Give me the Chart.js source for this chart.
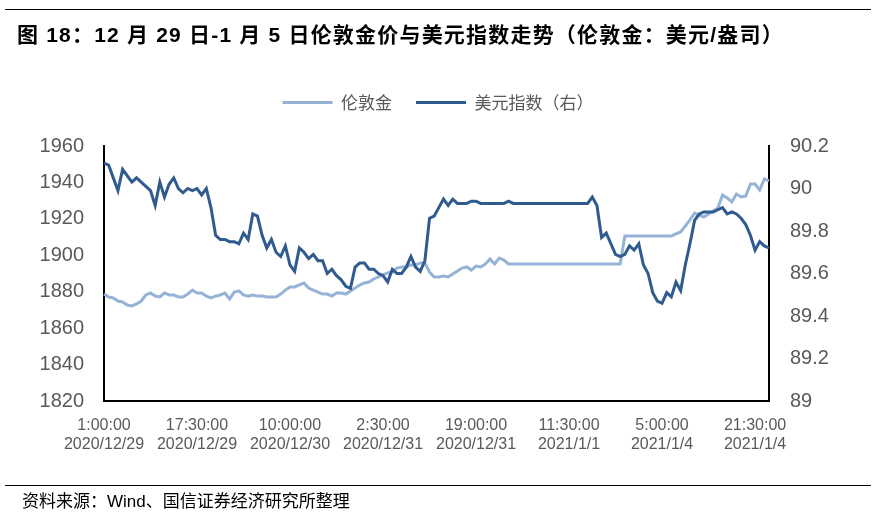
<!DOCTYPE html>
<html>
<head>
<meta charset="utf-8">
<script src="https://cdn.jsdelivr.net/npm/chart.js@4/dist/chart.umd.min.js"></script>
<style>
  body { margin: 0; background: #fff; }
  #wrap { position: relative; width: 876px; height: 514px; }
  #title { position: absolute; left: 17px; top: 18px; font: bold 21px "Liberation Sans", "Noto Sans CJK SC"; letter-spacing: 1.2px; color: #000; white-space: nowrap; }
  .rule { position: absolute; left: 5px; width: 866px; border-top: 1.5px solid #000; }
  #source { position: absolute; left: 22px; top: 487px; font: 17px "Liberation Sans", "Noto Sans CJK SC"; color: #000; white-space: nowrap; }
</style>
</head>
<body>
<div id="wrap">
  <div class="rule" style="top:9px"></div>
  <div id="title">图 18：12 月 29 日-1 月 5 日伦敦金价与美元指数走势（伦敦金：美元/盎司）</div>
  <canvas id="chart" width="876" height="514"></canvas>
  <div class="rule" style="top:485px"></div>
  <div id="source">资料来源：Wind、国信证券经济研究所整理</div>
</div>
<script>
// Tick labels shown every 20 points (half-hour data, thinned)
const timeLabels = ['1:00:00', '17:30:00', '10:00:00', '2:30:00', '19:00:00', '11:30:00', '5:00:00', '21:30:00'];
const dateLabels = ['2020/12/29', '2020/12/29', '2020/12/30', '2020/12/31', '2020/12/31', '2021/1/1', '2021/1/4', '2021/1/4'];
const labelEvery = 20;

// 伦敦金 (left axis)
const gold = [
  1878.7, 1877.1, 1876.6, 1874.9, 1874.4, 1872.7, 1872.2, 1873.3, 1874.9, 1878.2,
  1879.3, 1877.6, 1877.1, 1879.3, 1878.2, 1878.2, 1877.1, 1877.1, 1878.7, 1880.9,
  1879.3, 1879.3, 1877.6, 1876.6, 1877.6, 1878.2, 1879.3, 1876.0, 1879.8, 1880.4,
  1878.2, 1877.6, 1878.2, 1877.6, 1877.6, 1877.1, 1877.1, 1877.1, 1878.7, 1880.9,
  1882.6, 1882.6, 1883.7, 1884.8, 1882.0, 1880.9, 1879.8, 1878.7, 1878.7, 1877.6,
  1879.3, 1879.3, 1878.7, 1880.4, 1882.0, 1883.7, 1884.8, 1885.3, 1887.0, 1888.1,
  1889.2, 1890.3, 1890.8, 1893.0, 1893.6, 1893.6, 1894.7, 1894.7, 1895.8, 1895.8,
  1890.8, 1888.1, 1888.1, 1888.6, 1888.1, 1889.7, 1891.4, 1893.0, 1893.6, 1891.9,
  1894.1, 1893.6, 1895.2, 1898.0, 1895.2, 1898.5, 1897.4, 1895.2, 1895.2, 1895.2,
  1895.2, 1895.2, 1895.2, 1895.2, 1895.2, 1895.2, 1895.2, 1895.2, 1895.2, 1895.2,
  1895.2, 1895.2, 1895.2, 1895.2, 1895.2, 1895.2, 1895.2, 1895.2, 1895.2, 1895.2,
  1895.2, 1895.2, 1910.6, 1910.6, 1910.6, 1910.6, 1910.6, 1910.6, 1910.6, 1910.6,
  1910.6, 1910.6, 1910.6, 1911.7, 1912.8, 1916.1, 1919.4, 1923.2, 1922.1, 1921.0,
  1922.7, 1924.3, 1926.0, 1933.1, 1931.5, 1929.3, 1933.6, 1932.0, 1932.5, 1939.1,
  1939.1, 1935.8, 1941.9, 1940.8
];

// 美元指数 (right axis)
const dxy = [
  90.12, 90.11, 90.05, 89.99, 90.09, 90.06, 90.03, 90.05, 90.03, 90.01,
  89.99, 89.92, 90.03, 89.96, 90.02, 90.05, 90.00, 89.98, 90.00, 89.99,
  90.00, 89.97, 90.00, 89.91, 89.78, 89.76, 89.76, 89.75, 89.75, 89.74,
  89.79, 89.76, 89.88, 89.87, 89.78, 89.72, 89.76, 89.70, 89.68, 89.73,
  89.64, 89.61, 89.72, 89.70, 89.67, 89.69, 89.66, 89.66, 89.60, 89.62,
  89.59, 89.57, 89.54, 89.53, 89.63, 89.65, 89.65, 89.62, 89.62, 89.60,
  89.59, 89.56, 89.62, 89.60, 89.60, 89.63, 89.68, 89.63, 89.61, 89.66,
  89.86, 89.87, 89.91, 89.95, 89.92, 89.95, 89.93, 89.93, 89.93, 89.94,
  89.94, 89.93, 89.93, 89.93, 89.93, 89.93, 89.93, 89.94, 89.93, 89.93,
  89.93, 89.93, 89.93, 89.93, 89.93, 89.93, 89.93, 89.93, 89.93, 89.93,
  89.93, 89.93, 89.93, 89.93, 89.93, 89.96, 89.92, 89.77, 89.79, 89.74,
  89.69, 89.68, 89.69, 89.73, 89.71, 89.74, 89.64, 89.60, 89.51, 89.47,
  89.46, 89.51, 89.49, 89.56, 89.52, 89.64, 89.74, 89.85, 89.88, 89.89,
  89.89, 89.89, 89.90, 89.91, 89.88, 89.89, 89.88, 89.86, 89.83, 89.78,
  89.71, 89.75, 89.73, 89.72
];

const labels = gold.map((_, i) =>
  i % labelEvery === 0 ? [timeLabels[i / labelEvery], dateLabels[i / labelEvery]] : '');

const tickColor = '#595959';
const latinFont = '"Liberation Sans", "Noto Sans CJK SC"';

// extra room under the legend
const legendGap = {
  id: 'legendGap',
  beforeInit(chart) {
    const fit = chart.legend.fit;
    chart.legend.fit = function () {
      fit.bind(chart.legend)();
      this.height = 76;
    };
  }
};

new Chart(document.getElementById('chart'), {
  type: 'line',
  data: {
    labels: labels,
    datasets: [{
      label: '伦敦金',
      data: gold,
      yAxisID: 'y',
      borderColor: '#95b3d7',
      backgroundColor: '#95b3d7',
      borderWidth: 3,
      pointRadius: 0,
      tension: 0,
      order: 2
    }, {
      label: '美元指数（右）',
      data: dxy,
      yAxisID: 'y1',
      borderColor: '#2f5b8f',
      backgroundColor: '#2f5b8f',
      borderWidth: 3,
      pointRadius: 0,
      tension: 0,
      order: 1
    }]
  },
  options: {
    responsive: false,
    animation: false,
    devicePixelRatio: 1,
    layout: { padding: { top: 70, left: 0, right: 0, bottom: 0 } },
    plugins: {
      tooltip: { enabled: false },
      legend: {
        position: 'top',
        labels: {
          usePointStyle: true,
          pointStyle: 'line',
          pointStyleWidth: 50,
          padding: 24,
          color: tickColor,
          font: { size: 17, family: '"Noto Sans CJK SC"' },
          sort: (a, b) => a.datasetIndex - b.datasetIndex
        }
      }
    },
    scales: {
      x: {
        type: 'category',
        offset: false,
        grid: { display: false, drawTicks: false },
        border: { display: true, color: '#000', width: 2 },
        ticks: {
          autoSkip: false,
          maxRotation: 0,
          minRotation: 0,
          padding: 15,
          color: tickColor,
          font: { size: 16, family: latinFont }
        },
        afterFit(scale) { scale.height = 113; }
      },
      y: {
        position: 'left',
        min: 1820,
        max: 1960,
        grid: { display: false, drawTicks: false },
        border: { display: true, color: '#000', width: 2 },
        ticks: {
          stepSize: 20,
          padding: 20,
          color: tickColor,
          font: { size: 20, family: latinFont },
          callback: v => String(v)
        },
        afterFit(scale) { scale.width = 104; }
      },
      y1: {
        position: 'right',
        min: 89,
        max: 90.2,
        grid: { display: false, drawTicks: false },
        border: { display: true, color: '#000', width: 2 },
        ticks: {
          stepSize: 0.2,
          padding: 21,
          color: tickColor,
          font: { size: 20, family: latinFont },
          callback: v => String(Math.round(v * 10) / 10)
        },
        afterFit(scale) { scale.width = 107; }
      }
    }
  },
  plugins: [legendGap]
});
</script>
</body>
</html>
